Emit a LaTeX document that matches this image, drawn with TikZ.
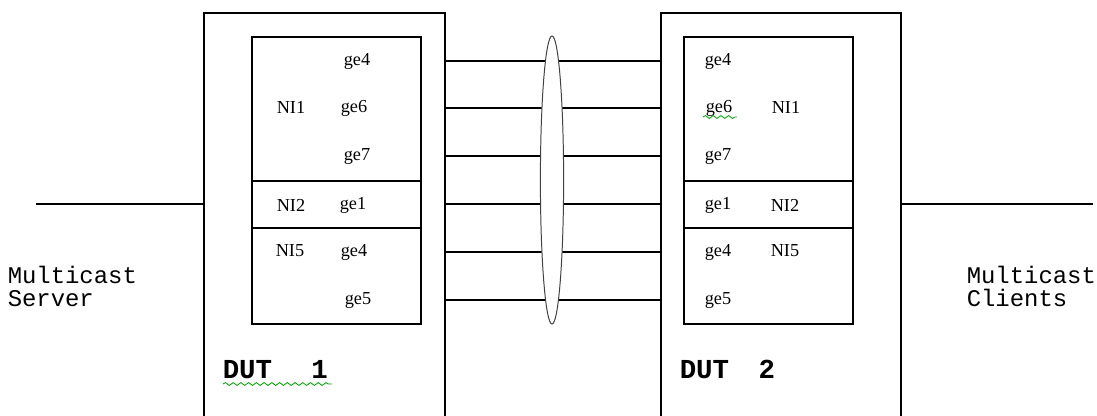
\documentclass[tikz,border=0pt]{standalone}
\usepackage{fontspec}
\setmainfont{Liberation Serif}
\setmonofont{Liberation Mono}
\usetikzlibrary{decorations.pathmorphing}

\begin{document}
\begin{tikzpicture}[x=0.025cm, y=-0.025cm, line width=1.1pt,
  port/.style={font=\fontsize{13}{15}\selectfont, inner sep=0pt},
  host/.style={font=\ttfamily\fontsize{17}{20}\selectfont, inner sep=0pt, anchor=base west},
  dut/.style={font=\ttfamily\bfseries\fontsize{19.5}{22}\selectfont, inner sep=0pt, anchor=base west},
  squiggle/.style={draw=green!65!black, line width=0.6pt, decorate,
    decoration={snake, amplitude=1pt, segment length=5.5pt}}]
  \useasboundingbox (0,0) rectangle (1097,415);
  \clip (0,0) rectangle (1097,415);

  % Device boxes (open at the bottom)
  \draw (204,430) |- (445,13) -- (445,430);
  \draw (661,430) |- (901,13) -- (901,430);

  % Interface cards
  \draw (252,37) rectangle (421,324);
  \draw (252,181) -- (421,181);
  \draw (252,228) -- (421,228);
  \draw (684,37) rectangle (853,324);
  \draw (684,181) -- (853,181);
  \draw (684,228) -- (853,228);

  % Links between the two devices
  \foreach \y [count=\i] in {61,108,156,204,252,300} {
    \coordinate (la\i) at (445,\y);
    \coordinate (lb\i) at (661,\y);
    \draw (la\i) -- (lb\i);
  }
  % Bundle
  \draw[line width=0.7pt, draw=black!75, fill=white] (552,180) ellipse [x radius=0.29cm, y radius=3.6cm];

  % Uplinks
  \coordinate (srv) at (36,204);
  \coordinate (cli) at (1093,204);
  \draw (srv) -- (204,204);
  \draw (901,204) -- (cli);

  % DUT 1 ports
  \node[port] (a-ge4) at (357,61) {ge4};
  \node[port] (a-ni1) at (291,107) {NI1};
  \node[port] (a-ge6) at (354,108) {ge6};
  \node[port] (a-ge7) at (357,156) {ge7};
  \node[port] (a-ni2) at (291,205) {NI2};
  \node[port] (a-ge1) at (353,205) {ge1};
  \node[port] (a-ni5) at (290,251) {NI5};
  \node[port] (a-ge4b) at (354,252) {ge4};
  \node[port] (a-ge5) at (358,300) {ge5};

  % DUT 2 ports
  \node[port] (b-ge4) at (718,61) {ge4};
  \node[port] (b-ge6) at (719,108) {ge6};
  \node[port] (b-ni1) at (786,107) {NI1};
  \node[port] (b-ge7) at (718,156) {ge7};
  \node[port] (b-ge1) at (718,205) {ge1};
  \node[port] (b-ni2) at (785,205) {NI2};
  \node[port] (b-ge4b) at (718,252) {ge4};
  \node[port] (b-ni5) at (785,251) {NI5};
  \node[port] (b-ge5) at (718,300) {ge5};

  % Device names
  \node[dut] (dutA) at (222,378) {DUT\hspace{28pt}1};
  \node[dut] (dutB) at (679,378) {DUT\hspace{21pt}2};
  \draw[squiggle] (223,384) -- (332,384);
  \draw[squiggle] (703,117) -- (737,117);

  % End hosts
  \node[host] (srvA) at (7,283) {Multicast};
  \node[host] (srvB) at (7,306) {Server};
  \node[host] (cliA) at (966,283) {Multicast};
  \node[host] (cliB) at (966,306) {Clients};
\end{tikzpicture}
\end{document}
